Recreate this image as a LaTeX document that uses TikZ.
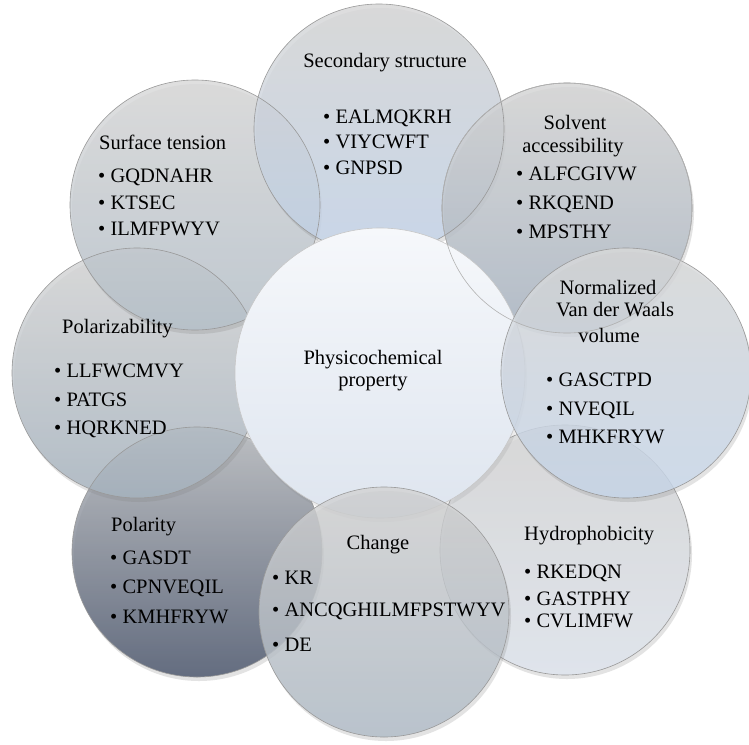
\documentclass[tikz,border=0pt]{standalone}
\usepackage{fontspec}
\setmainfont{Liberation Serif}
\usetikzlibrary{shadows}
\newcommand\bitem[1]{\textbullet\ #1}
\begin{document}
\begin{tikzpicture}[x=1pt,y=-1pt,
  outer/.style={circle, inner sep=0pt, minimum size=250pt, fill opacity=0.82,
    drop shadow={shadow xshift=2pt, shadow yshift=-4pt, opacity=0.22}},
  ring/.style={draw=black!40, line width=0.6pt},
  txt/.style={inner sep=0pt, font=\fontsize{20.5}{24}\selectfont, text=black},
  title/.style={txt, anchor=base},
  ltitle/.style={txt, anchor=base west},
  item/.style={txt, anchor=base west}]
\useasboundingbox (0,0) rectangle (749,744);
\fill[white] (0,0) rectangle (749,744);
% outer circles (below the centre)
\node[outer, top color=gray!33, bottom color={rgb,255:red,223;green,229;blue,238}] (hyd) at (565,550) {};
\node[outer, top color={rgb,255:red,180;green,183;blue,187}, bottom color={rgb,255:red,72;green,83;blue,106}] (pol) at (197,552) {};
\node[outer, top color=gray!32, bottom color={rgb,255:red,167;green,180;blue,192}] (plz) at (137,373) {};
\node[outer, top color=gray!30, bottom color={rgb,255:red,183;green,194;blue,204}] (sur) at (195,205) {};
\node[outer, top color=gray!32, bottom color={rgb,255:red,195;green,212;blue,234}] (sec) at (379,129) {};
\node[outer, top color=gray!33, bottom color={rgb,255:red,168;green,180;blue,194}] (sol) at (567,208) {};
\foreach \c in {hyd,pol,plz,sur,sec,sol}
  \draw[ring] (\c.center) circle[radius=125pt];
% centre
\node[circle, inner sep=0pt, minimum size=290pt,
  top color={rgb,255:red,246;green,248;blue,251}, bottom color={rgb,255:red,222;green,229;blue,239},
  drop shadow={shadow xshift=2pt, shadow yshift=-4pt, opacity=0.15}] (ctr) at (380,373) {};
\draw[ring, draw=black!22] (ctr.center) circle[radius=145pt];
% outer circles above the centre
\node[outer, fill opacity=0.8, top color=gray!30, bottom color={rgb,255:red,200;green,216;blue,236}] (vdw) at (626,373) {};
\node[outer, fill opacity=0.78, top color=gray!35, bottom color={rgb,255:red,174;green,186;blue,198}] (chg) at (384,612) {};
\foreach \c in {vdw,chg}
  \draw[ring] (\c.center) circle[radius=125pt];
\draw[ring, draw=black!30] (sol.center) circle[radius=125pt];
% texts
\node[title] (ctrA) at (373,364) {Physicochemical};
\node[title] (ctrB) at (373,386) {property};

\node[title] (secT) at (385,67) {Secondary structure};
\node[item] (sec1) at (323,123) {\bitem{EALMQKRH}};
\node[item] (sec2) at (323,148) {\bitem{VIYCWFT}};
\node[item] (sec3) at (323,174) {\bitem{GNPSD}};

\node[title] (solT1) at (575,129) {Solvent};
\node[title] (solT2) at (573,152) {accessibility};
\node[item] (sol1) at (516,180) {\bitem{ALFCGIVW}};
\node[item] (sol2) at (516,209) {\bitem{RKQEND}};
\node[item] (sol3) at (516,238) {\bitem{MPSTHY}};

\node[ltitle] (surT) at (99,149) {Surface tension};
\node[item] (sur1) at (98,182) {\bitem{GQDNAHR}};
\node[item] (sur2) at (98,209) {\bitem{KTSEC}};
\node[item] (sur3) at (98,235) {\bitem{ILMFPWYV}};

\node[ltitle] (plzT) at (62,333) {Polarizability};
\node[item] (plz1) at (54,377) {\bitem{LLFWCMVY}};
\node[item] (plz2) at (54,406) {\bitem{PATGS}};
\node[item] (plz3) at (54,434) {\bitem{HQRKNED}};

\node[title] (vdwT1) at (608,294) {Normalized};
\node[title] (vdwT2) at (615,316) {Van der Waals};
\node[title] (vdwT3) at (609,342) {volume};
\node[item] (vdw1) at (546,386) {\bitem{GASCTPD}};
\node[item] (vdw2) at (546,415) {\bitem{NVEQIL}};
\node[item] (vdw3) at (546,443) {\bitem{MHKFRYW}};

\node[ltitle] (hydT) at (524,540) {Hydrophobicity};
\node[item] (hyd1) at (524,578) {\bitem{RKEDQN}};
\node[item] (hyd2) at (524,605) {\bitem{GASTPHY}};
\node[item] (hyd3) at (524,627) {\bitem{CVLIMFW}};

\node[title] (chgT) at (378,549) {Change};
\node[item] (chg1) at (272,584) {\bitem{KR}};
\node[item] (chg2) at (272,616) {\bitem{ANCQGHILMFPSTWYV}};
\node[item] (chg3) at (272,651) {\bitem{DE}};

\node[ltitle] (polT) at (111,531) {Polarity};
\node[item] (pol1) at (110,564) {\bitem{GASDT}};
\node[item] (pol2) at (110,593) {\bitem{CPNVEQIL}};
\node[item] (pol3) at (110,623) {\bitem{KMHFRYW}};
\end{tikzpicture}
\end{document}
